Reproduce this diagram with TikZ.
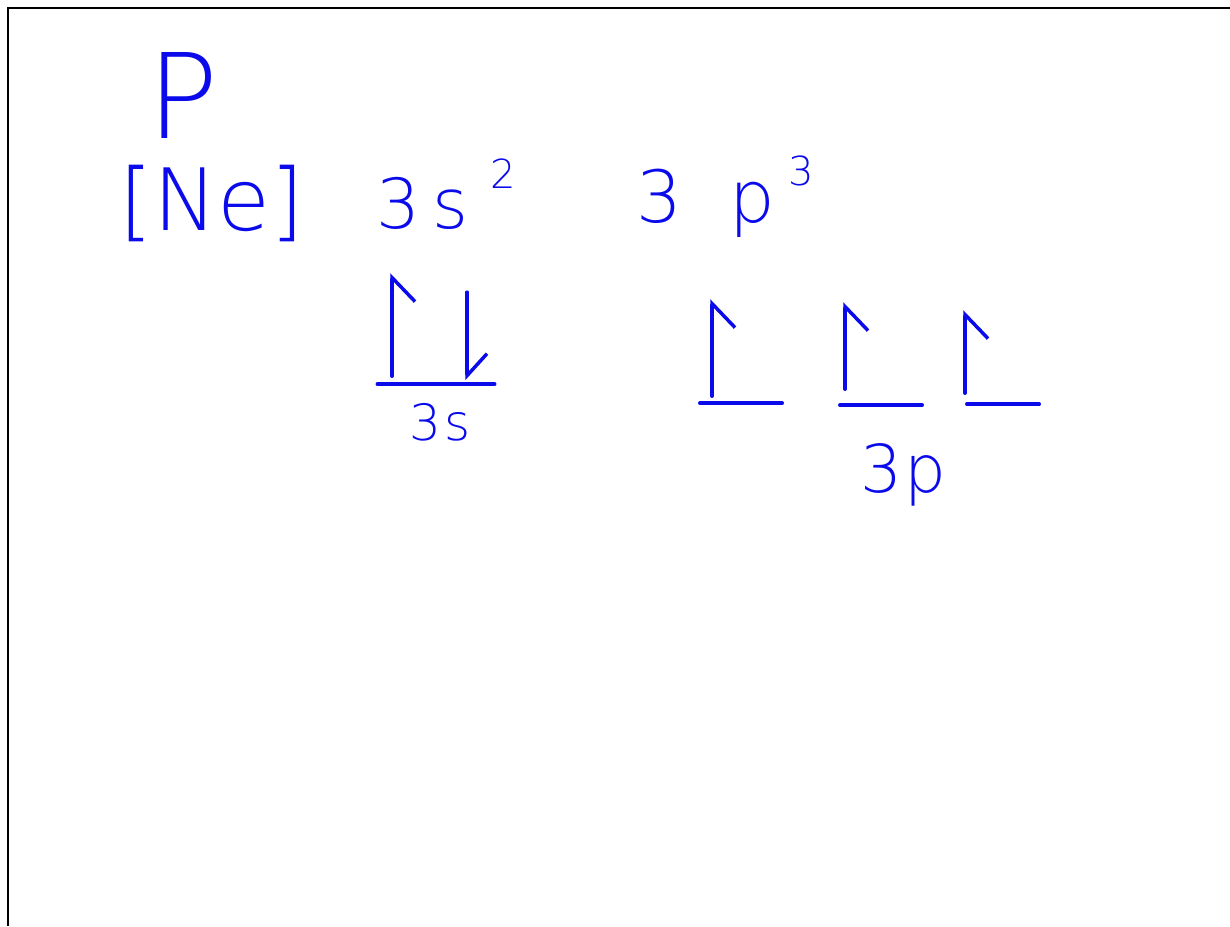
\documentclass[tikz,border=0pt]{standalone}
\usepackage{fontspec}
\newfontfamily\handfont{DejaVu Sans ExtraLight}
\usetikzlibrary{arrows.meta,positioning,calc}

\definecolor{inkblue}{RGB}{10,10,235}

\tikzset{
  ink/.style={draw=inkblue, line width=3.5pt, line cap=round},
  handtext/.style={text=inkblue, inner sep=0pt, font=\handfont},
  orbital/.style={minimum height=100pt, inner sep=0pt},
  spinup/.style={ink, -{Straight Barb[right, length=24pt, width=46pt]}},
  spindown/.style={ink, -{Straight Barb[left, length=22pt, width=40pt]}},
}

\begin{document}
\begin{tikzpicture}[x=1pt, y=-1pt]

\useasboundingbox (0,0) rectangle (1230,926);
\draw[line width=2pt] (8,926) -- (8,8) -- (1230,8);

\node [handtext, font={\handfont\fontsize{118}{118}\selectfont}] (elem) at (183,95) {P};

\node [handtext, font={\handfont\fontsize{86}{86}\selectfont}] (core) at (212,203) {[Ne]};

\node [handtext, anchor=base west, font={\handfont\fontsize{69}{69}\selectfont}] (sconf) at (376,228)
{3\hspace{12pt}s\hspace{22pt}\raisebox{40pt}{\fontsize{40}{40}\selectfont 2}};

\node [handtext, anchor=base west, font={\handfont\fontsize{72}{72}\selectfont}] (pconf) at (636,222)
{3\hspace{48pt}p\hspace{13pt}\raisebox{37pt}{\fontsize{40}{40}\selectfont 3}};

\node [orbital, minimum width=117pt] (s1) at (436,334) {};
\node [orbital, minimum width=82pt] (p1) at (741,353) {};
\node [orbital, minimum width=82pt] (p2) at (881,355) {};
\node [orbital, minimum width=72pt] (p3) at (1003,354) {};

\foreach \o in {s1,p1,p2,p3}
  \draw[ink] (\o.south west) -- (\o.south east);

\draw[spinup] ($(s1.south)+(-44,-8)$) -- ($(s1.south)+(-44,-111)$);
\draw[spindown] ($(s1.south)+(31,-92)$) -- ($(s1.south)+(31,-4)$);
\draw[spinup] ($(p1.south)+(-29,-7)$) -- ($(p1.south)+(-29,-104)$);
\draw[spinup] ($(p2.south)+(-36,-16)$) -- ($(p2.south)+(-36,-103)$);
\draw[spinup] ($(p3.south)+(-38,-11)$) -- ($(p3.south)+(-38,-94)$);

\node [handtext, below=19pt of s1.south, xshift=4pt, font={\handfont\fontsize{50}{50}\selectfont}] (slabel) {3\hspace{4pt}s};
\node [handtext, below=38pt of p2.south, xshift=22pt, font={\handfont\fontsize{66}{66}\selectfont}] (plabel) {3\hspace{2pt}p};

\end{tikzpicture}
\end{document}
